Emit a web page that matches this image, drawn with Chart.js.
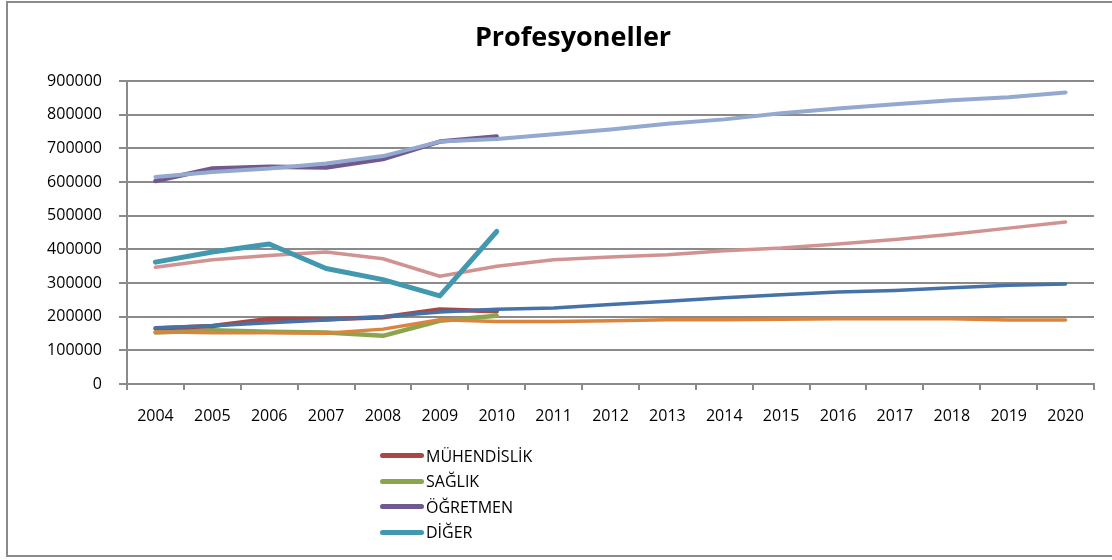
<!DOCTYPE html>
<html>
<head>
<meta charset="utf-8">
<script src="https://cdn.jsdelivr.net/npm/chart.js@4/dist/chart.umd.min.js"></script>
<style>
  body { margin: 0; background: #fff; font-family: 'Open Sans', sans-serif; }
  #wrap { position: relative; width: 1112px; height: 560px; overflow: hidden; }
  #frame { position: absolute; left: 6px; top: 1px; width: 1130px; height: 552px; border: 2px solid #8a8a8a; }
  #grafico { position: absolute; left: 0; top: 0; }
  #titulo { position: absolute; left: 373px; width: 400px; top: 18px; text-align: center;
            font-size: 27px; font-weight: bold; color: #000; line-height: 36px; }
  #leyenda { position: absolute; left: 380px; top: 443px; }
  .fila { height: 25.5px; display: flex; align-items: center; font-size: 16px; color: #000; }
  .linea { width: 44px; height: 5px; border-radius: 3px; margin-right: 2px; }
</style>
</head>
<body>
<div id="wrap">
  <div id="frame"></div>
  <canvas id="grafico" width="1112" height="560"></canvas>
  <div id="titulo">Profesyoneller</div>
  <div id="leyenda"></div>
</div>
<script>
// Años (eje X)
const anios = ['2004','2005','2006','2007','2008','2009','2010','2011','2012',
               '2013','2014','2015','2016','2017','2018','2019','2020'];

// Series reales 2004-2010
const muhendislik = [165000, 172000, 193000, 192000, 198000, 221000, 216000];
const saglik      = [153000, 160000, 155000, 153000, 143000, 188000, 203000];
const ogretmen    = [603000, 640000, 645000, 643000, 668000, 720000, 735000];
const diger       = [362000, 392000, 416000, 343000, 310000, 262000, 453000];

// Proyecciones 2004-2020 (sin leyenda)
const ogretmenTahmin    = [615000, 630000, 640000, 655000, 677000, 720000, 728000, 742000, 756000,
                           773000, 786000, 804000, 818000, 831000, 843000, 852000, 866000];
const digerTahmin       = [347000, 369000, 382000, 392000, 372000, 320000, 350000, 369000, 377000,
                           384000, 396000, 404000, 416000, 429000, 445000, 463000, 481000];
const muhendislikTahmin = [167000, 173000, 182000, 190000, 200000, 214000, 222000, 226000, 236000,
                           246000, 256000, 265000, 273000, 278000, 286000, 293000, 297000];
const saglikTahmin      = [155000, 152000, 152000, 151000, 163000, 191000, 186000, 186000, 188000,
                           191000, 191000, 192000, 194000, 194000, 194000, 190000, 190000];

const gris = '#8a8a8a';

function serie(label, data, color, ancho, orden, enLeyenda) {
    return {
        label: label,
        data: data,
        borderColor: color,
        backgroundColor: color,
        borderWidth: ancho,
        pointRadius: 0,
        pointHoverRadius: 0,
        tension: 0,
        spanGaps: false,
        borderCapStyle: 'round',
        borderJoinStyle: 'round',
        order: orden,
        enLeyenda: enLeyenda
    };
}

const datasets = [
    serie('MÜHENDİSLİK', muhendislik, '#AA4643', 4.5, 3, true),
    serie('SAĞLIK', saglik, '#89A54E', 4.5, 3, true),
    serie('ÖĞRETMEN', ogretmen, '#71588F', 4.5, 3, true),
    serie('DİĞER', diger, '#4198AF', 5, 0, true),
    serie('ÖĞRETMEN tahmin', ogretmenTahmin, '#93A9CF', 4, 1, false),
    serie('DİĞER tahmin', digerTahmin, '#D19392', 3.5, 2, false),
    serie('MÜHENDİSLİK tahmin', muhendislikTahmin, '#4572A7', 3.5, 1, false),
    serie('SAĞLIK tahmin', saglikTahmin, '#DB843D', 3.5, 1, false)
];

const ctx = document.getElementById('grafico').getContext('2d');
const chart = new Chart(ctx, {
    type: 'line',
    data: { labels: anios, datasets: datasets },
    options: {
        responsive: false,
        animation: false,
        devicePixelRatio: 1,
        layout: { padding: { left: 0, right: 18, top: 81, bottom: 126 } },
        plugins: {
            legend: { display: false },
            tooltip: { enabled: false },
            title: { display: false }
        },
        scales: {
            x: {
                type: 'category',
                offset: true,
                grid: { offset: true, drawOnChartArea: false, drawTicks: true, tickLength: 6, color: gris, lineWidth: 2 },
                border: { display: true, color: gris, width: 2 },
                ticks: { color: '#000', font: { family: 'Open Sans', size: 16 }, padding: 17, maxRotation: 0, autoSkip: false },
                afterFit: function (scale) { scale.height = 50; }
            },
            y: {
                min: 0,
                max: 900000,
                grid: { drawTicks: true, tickLength: 8, color: gris, lineWidth: 2 },
                border: { display: true, color: gris, width: 2 },
                ticks: {
                    stepSize: 100000,
                    color: '#000',
                    font: { family: 'Open Sans', size: 16 },
                    padding: 17,
                    callback: function (v) { return String(v); }
                },
                afterFit: function (scale) { scale.width = 127; }
            }
        }
    }
});

// Leyenda HTML (solo series reales)
const leyenda = document.getElementById('leyenda');
chart.data.datasets.filter(d => d.enLeyenda).forEach(d => {
    const fila = document.createElement('div');
    fila.className = 'fila';
    const linea = document.createElement('span');
    linea.className = 'linea';
    linea.style.background = d.borderColor;
    const texto = document.createElement('span');
    texto.textContent = d.label;
    fila.appendChild(linea);
    fila.appendChild(texto);
    leyenda.appendChild(fila);
});
</script>
</body>
</html>
